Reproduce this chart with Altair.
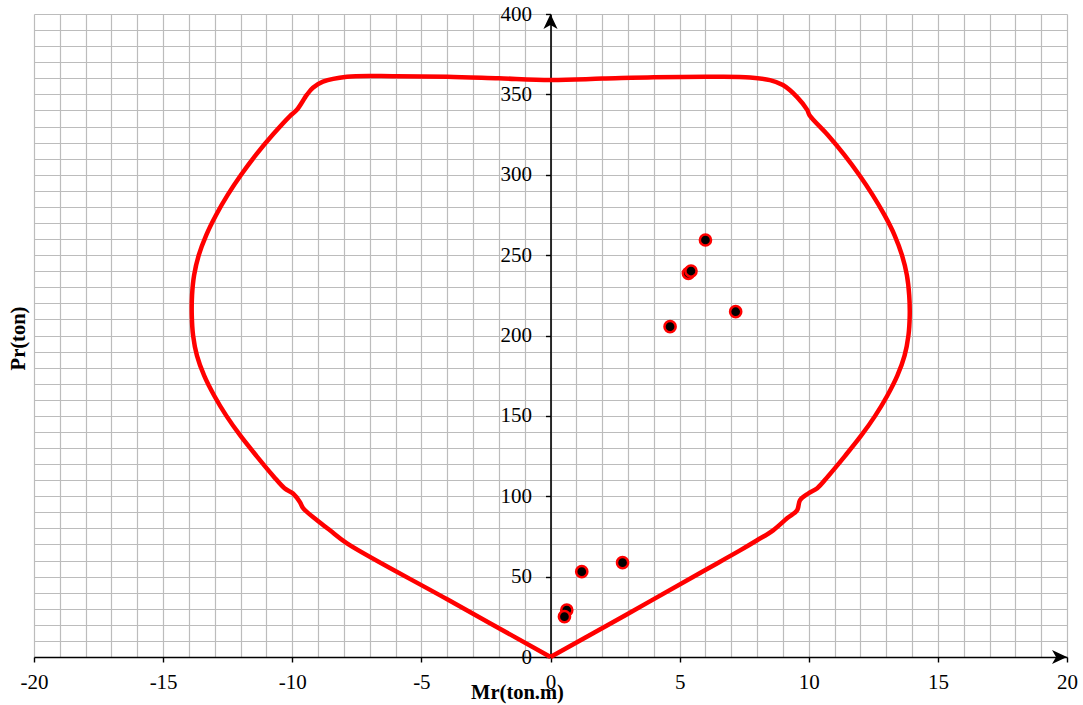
import altair as alt
import pandas as pd

# Interaction diagram (Mr, Pr), traced from origin up the right side, over the top, down the left side
curve_m = [0, 2.9, 5.79, 7.34, 8.0, 8.62, 9.16, 9.55, 9.66, 9.98, 10.33, 10.75, 11.40, 12.02, 12.57,
           13.04, 13.43, 13.71, 13.86, 13.91, 13.89, 13.80, 13.61, 13.32, 12.93, 12.47, 11.95, 11.37,
           10.72, 10.03, 9.94, 9.55, 9.0, 8.5, 7.73, 6.5, 4.0, 2.0, 0.0,
           -2.0, -4.0, -6.0, -7.88, -8.81, -9.2, -9.43, -9.82, -10.09, -10.75, -11.4, -11.98, -12.5,
           -12.95, -13.33, -13.62, -13.8, -13.88, -13.89, -13.84, -13.69, -13.41, -13.02, -12.55,
           -12.0, -11.38, -10.73, -10.3, -9.97, -9.7, -9.58, -9.04, -8.54, -7.88, -4.0, 0]
curve_p = [0, 26.0, 52.3, 66.3, 72.6, 78.8, 86.3, 91.3, 97.5, 101.7, 105.0, 112.5, 125.0, 137.5, 150.0,
           162.5, 175.0, 187.5, 200.0, 212.5, 225.0, 237.5, 250.0, 262.5, 275.0, 287.5, 300.0, 312.5,
           325.0, 337.0, 340.3, 348.3, 355.8, 358.9, 360.5, 361.0, 360.7, 359.8, 359.0,
           360.0, 361.0, 361.3, 361.0, 357.9, 354.1, 349.8, 340.4, 336.5, 325.0, 312.5, 300.0, 287.5,
           275.0, 262.5, 250.0, 237.5, 225.0, 212.5, 200.0, 187.5, 175.0, 162.5, 150.0,
           137.5, 125.0, 112.5, 105.0, 101.7, 96.3, 92.6, 85.1, 78.8, 70.7, 35.9, 0]

# Load points
pt_m = [0.63, 0.54, 1.21, 2.79, 6.0, 5.34, 5.44, 7.17, 4.63]
pt_p = [29.2, 25.1, 53.1, 58.7, 259.4, 238.7, 240.1, 214.8, 205.5]

x_grid = list(range(-20, 21, 1))
y_grid = list(range(0, 401, 10))
x_ticks = list(range(-20, 21, 5))
y_ticks = list(range(0, 401, 50))

curve = pd.DataFrame({"m": curve_m, "p": curve_p, "i": list(range(len(curve_m)))})
pts = pd.DataFrame({"m": pt_m, "p": pt_p})
arrow_y = pd.DataFrame({"m": [0], "p": [400]})
arrow_x = pd.DataFrame({"m": [20], "p": [0]})

FONT = "Liberation Serif"
W, H = 1033, 643
xs = alt.Scale(domain=[-20, 20], nice=False, zero=False)
ys = alt.Scale(domain=[0, 400], nice=False, zero=False)

grid_x_axis = alt.Axis(values=x_grid, grid=True, gridColor="#bcbcbc", gridWidth=1.2, labels=False,
                       ticks=False, domain=False, orient="bottom", title="Mr(ton.m)",
                       titleFont=FONT, titleFontSize=20.5, titleFontWeight="bold", titleColor="black",
                       titleX=483, titleY=41, titleAlign="center", titleBaseline="alphabetic")
grid_y_axis = alt.Axis(values=y_grid, grid=True, gridColor="#bcbcbc", gridWidth=1.2, labels=False,
                       ticks=False, domain=False, orient="left", title="Pr(ton)",
                       titleFont=FONT, titleFontSize=20.5, titleFontWeight="bold", titleColor="black",
                       titleX=-10, titleY=324, titleAngle=270, titleAlign="center",
                       titleBaseline="alphabetic")

line = alt.Chart(curve).mark_line(color="#ff0000", strokeWidth=4.5, interpolate="catmull-rom").encode(
    x=alt.X("m:Q", scale=xs, axis=grid_x_axis),
    y=alt.Y("p:Q", scale=ys, axis=grid_y_axis),
    order=alt.Order("i:Q"),
)

vis_x_axis = alt.Axis(values=x_ticks, grid=False, orient="bottom", domainColor="black", domainWidth=1.6,
                      tickColor="black", tickWidth=1.4, tickSize=5, labelFont=FONT, labelFontSize=21,
                      labelColor="black", labelPadding=9, labelFlush=False, labelOverlap=False,
                      labelExpr="'' + datum.value", title="")
vis_y_axis = alt.Axis(values=y_ticks, grid=False, orient="left", offset=-(W / 2), domainColor="black",
                      domainWidth=1.6, tickColor="black", tickWidth=1.4, tickSize=5, labelFont=FONT,
                      labelFontSize=21, labelColor="black", labelPadding=14, labelFlush=False,
                      labelOverlap=False, labelExpr="'' + datum.value", title="")

points = alt.Chart(pts).mark_point(filled=True, fill="black", stroke="#ff0000", strokeWidth=2.5,
                                   size=125, opacity=1).encode(
    x=alt.X("m:Q", scale=xs, axis=vis_x_axis),
    y=alt.Y("p:Q", scale=ys, axis=vis_y_axis),
)

arr_up = alt.Chart(arrow_y).mark_point(shape="M0,0 L-0.47,1 L0,0.73 L0.47,1 Z", filled=True,
                                       color="black", size=900, opacity=1, strokeWidth=0).encode(
    x=alt.X("m:Q", scale=xs, axis=None),
    y=alt.Y("p:Q", scale=ys, axis=None),
)
arr_right = alt.Chart(arrow_x).mark_point(shape="M0,0 L-1,-0.47 L-0.73,0 L-1,0.47 Z", filled=True,
                                          color="black", size=900, opacity=1, strokeWidth=0).encode(
    x=alt.X("m:Q", scale=xs, axis=None),
    y=alt.Y("p:Q", scale=ys, axis=None),
)

chart = alt.layer(line, points, arr_up, arr_right).resolve_axis(
    x="independent", y="independent"
).properties(
    width=W, height=H,
    autosize=alt.AutoSizeParams(type="none"),
    padding={"left": 34, "top": 14, "right": 16, "bottom": 48},
    background="white",
).configure_view(stroke=None)

chart.save("out.html", embed_options={"renderer": "svg", "actions": False})
